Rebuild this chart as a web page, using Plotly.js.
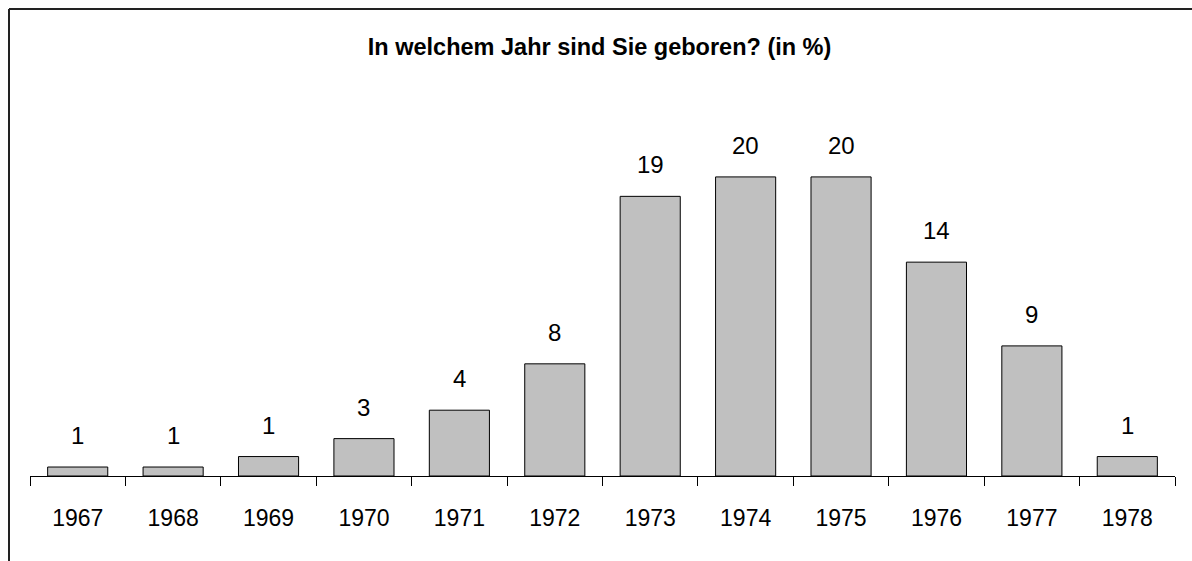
<!DOCTYPE html>
<html>
<head>
<meta charset="utf-8">
<script src="https://cdn.plot.ly/plotly-3.0.1.min.js"></script>
<style>html,body{margin:0;padding:0;background:#fff;}</style>
</head>
<body>
<div id="chart" style="width:1192px;height:561px;"></div>
<script>
const years = ["1967","1968","1969","1970","1971","1972","1973","1974","1975","1976","1977","1978"];
const values = [0.6, 0.6, 1.3, 2.5, 4.4, 7.5, 18.7, 20, 20, 14.3, 8.7, 1.3];
const valueLabels = ["1","1","1","3","4","8","19","20","20","14","9","1"];
const chartTitle = "In welchem Jahr sind Sie geboren? (in %)";

const FONT = "'Liberation Sans Narrow', 'Arial Narrow', 'Liberation Sans', Arial, sans-serif";

const trace = {
  type: "bar",
  x: years,
  y: values,
  marker: {color: "#c0c0c0", line: {color: "#000", width: 1}},
  hoverinfo: "none"
};

const annotations = years.map((yr, i) => ({
  x: i, y: values[i], xref: "x", yref: "y",
  text: valueLabels[i], showarrow: false,
  yanchor: "bottom", yshift: 16,
  font: {family: FONT, size: 24, color: "#000"}
}));

const layout = {
  width: 1192, height: 561,
  margin: {l: 30, r: 17, t: 147, b: 85},
  paper_bgcolor: "#fff", plot_bgcolor: "#fff",
  showlegend: false,
  bargap: 0.37,
  title: {
    text: "<b>" + chartTitle + "</b>",
    x: 0.503, xref: "container", xanchor: "center",
    y: 1 - 47/561, yref: "container", yanchor: "middle",
    font: {family: FONT, size: 23.5, color: "#000"}
  },
  xaxis: {
    type: "category",
    range: [-0.5, years.length - 0.5], autorange: false,
    showline: true, linecolor: "#000", linewidth: 1,
    ticks: "outside", tickson: "boundaries", ticklen: 9, tickcolor: "#000", tickwidth: 1,
    ticklabelstandoff: 21,
    tickangle: 0,
    tickfont: {family: FONT, size: 23, color: "#000"},
    showgrid: false, zeroline: false, fixedrange: true
  },
  yaxis: {
    range: [0, 22], autorange: false, visible: false, showgrid: false, zeroline: false, fixedrange: true
  },
  annotations: annotations,
  shapes: [
    {type: "line", xref: "paper", yref: "paper", x0: (9-30)/1145, x1: (1192-30)/1145, y0: (476-9)/329, y1: (476-9)/329, line: {color: "#222", width: 2}},
    {type: "line", xref: "paper", yref: "paper", x0: (9-30)/1145, x1: (9-30)/1145, y0: (476-9)/329, y1: (476-561)/329, line: {color: "#222", width: 2}}
  ]
};

Plotly.newPlot("chart", [trace], layout, {displayModeBar: false, staticPlot: true});
</script>
</body>
</html>
